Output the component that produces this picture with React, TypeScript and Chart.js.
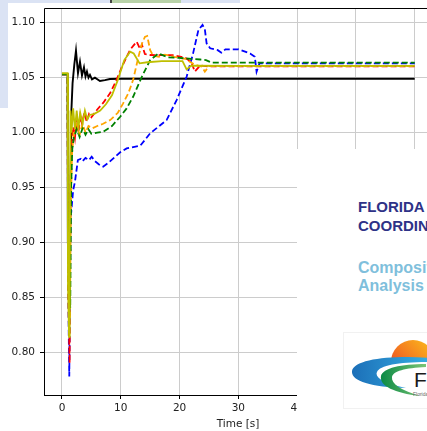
import React, { useEffect, useRef } from "react";
import { Chart, registerables } from "chart.js";

Chart.register(...registerables);

// ---- data (time in s, voltage in pu) ----
const xTicks = [0, 10, 20, 30, 40, 50, 60];
const yTicks = [0.8, 0.85, 0.9, 0.95, 1.0, 1.05, 1.1];

const blackT = [0, 0.95, 1.0, 1.3, 1.45, 1.6, 1.8, 2.1, 2.38, 2.72, 3.06, 3.4, 3.74, 4.0, 4.25, 4.51, 4.76, 5.1, 5.6, 6.46, 7.3, 8.16, 10, 60];
const blackV = [1.053, 1.053, 0.9, 0.86, 0.95, 1.02, 1.045, 1.062, 1.0745, 1.054, 1.0645, 1.052, 1.0595, 1.051, 1.0555, 1.05, 1.0525, 1.0485, 1.05, 1.047, 1.0478, 1.0488, 1.049, 1.049];

const blueT = [0, 0.95, 1.05, 1.24, 1.45, 1.9, 2.2, 2.7, 3.2, 3.5, 4.0, 4.6, 5.05, 5.6, 6.3, 7.0, 8.0, 9.9, 11, 13.3, 15, 17.8, 19.5, 21.2, 22.3, 23.2, 23.9, 24.3, 24.6, 25.2, 26.5, 27.1, 27.8, 30, 32, 32.8, 33.1, 33.6, 60];
const blueV = [1.053, 1.053, 0.86, 0.778, 0.92, 0.9476, 0.955, 0.975, 0.976, 0.974, 0.977, 0.975, 0.978, 0.974, 0.971, 0.969, 0.973, 0.982, 0.9856, 0.988, 0.9993, 1.0114, 1.0296, 1.0508, 1.0721, 1.0933, 1.098, 1.094, 1.0812, 1.0767, 1.075, 1.0727, 1.0758, 1.0758, 1.072, 1.069, 1.0554, 1.063, 1.063];

const redT = [0, 0.95, 1.05, 1.3, 1.42, 1.6, 1.9, 2.2, 2.5, 2.8, 3.1, 3.4, 3.8, 4.2, 4.6, 5.0, 6.0, 7.0, 8.2, 9.2, 10.2, 11.6, 12.7, 13.3, 13.6, 14.1, 15, 19, 21, 22, 22.6, 23.5, 25, 60];
const redV = [1.053, 1.053, 0.86, 0.79, 0.95, 0.985, 1.005, 0.995, 1.012, 1.0, 1.015, 1.008, 1.018, 1.01, 1.017, 1.014, 1.021, 1.027, 1.036, 1.047, 1.06, 1.0755, 1.0827, 1.076, 1.08, 1.0715, 1.0706, 1.0705, 1.068, 1.064, 1.0555, 1.061, 1.0602, 1.0602];

const orangeT = [0, 0.95, 1.05, 1.35, 1.5, 1.7, 2.0, 2.5, 3.0, 3.5, 4.0, 4.5, 5.2, 6.0, 7.0, 8.2, 9.5, 10.4, 11.3, 12.1, 13.0, 13.6, 14.1, 14.5, 15.0, 15.5, 16.5, 17.5, 19, 21, 22.5, 23.8, 24.3, 25, 60];
const orangeV = [1.053, 1.053, 0.88, 0.83, 0.93, 0.98, 1.0, 1.01, 0.998, 1.008, 1.0, 1.006, 1.004, 1.006, 1.008, 1.0114, 1.018, 1.0266, 1.036, 1.048, 1.069, 1.081, 1.087, 1.0879, 1.075, 1.07, 1.069, 1.071, 1.069, 1.067, 1.062, 1.06, 1.0554, 1.0605, 1.0605];

const greenT = [0, 0.95, 1.05, 1.4, 1.55, 1.75, 2.0, 2.5, 3.0, 3.5, 4.0, 4.5, 5.0, 6.0, 7.0, 8.5, 9.9, 11, 12.1, 13.6, 15, 16.4, 18, 20, 22, 23.5, 24.5, 25.5, 60];
const greenV = [1.053, 1.053, 0.9, 0.84, 0.95, 0.985, 0.995, 1.003, 0.996, 1.004, 0.998, 1.003, 0.999, 1.0, 1.0007, 1.006, 1.0144, 1.022, 1.0326, 1.051, 1.066, 1.072, 1.0685, 1.068, 1.067, 1.0665, 1.066, 1.0636, 1.0636];

const yellowT = [0, 0.95, 1.02, 1.2, 1.32, 1.45, 1.6, 1.9, 2.2, 2.5, 2.8, 3.1, 3.5, 3.9, 4.3, 4.7, 5.5, 6.5, 7.5, 8.5, 9.5, 10.6, 11.6, 12.2, 13.2, 14.5, 17, 20.5, 21.2, 22, 30, 60];
const yellowV = [1.054, 1.054, 0.86, 0.814, 0.9, 1.02, 1.0, 1.022, 1.003, 1.02, 1.004, 1.018, 1.008, 1.02, 1.012, 1.016, 1.017, 1.02, 1.026, 1.034, 1.048, 1.066, 1.0736, 1.072, 1.063, 1.064, 1.065, 1.065, 1.0575, 1.061, 1.0607, 1.0607];

const zip = (t: number[], v: number[]) => t.map((x, i) => ({ x, y: v[i] }));

export default function App() {
  const ref = useRef<HTMLCanvasElement>(null);

  useEffect(() => {
    const spines = {
      id: "spines",
      afterDatasetsDraw(chart: any) {
        const { ctx, chartArea: a } = chart;
        ctx.save();
        ctx.strokeStyle = "#000";
        ctx.lineWidth = 1;
        ctx.beginPath();
        ctx.moveTo(a.left + 0.5, a.bottom);
        ctx.lineTo(a.left + 0.5, a.top + 0.5);
        ctx.lineTo(a.right, a.top + 0.5);
        ctx.moveTo(a.left, a.bottom + 0.5);
        ctx.lineTo(a.right, a.bottom + 0.5);
        ctx.stroke();
        ctx.restore();
      },
    };
    const line = (data: any, color: string, dashed: boolean, order: number, w: number) => ({
      data,
      borderColor: color,
      backgroundColor: color,
      borderWidth: w,
      borderDash: dashed ? [6, 3] : [],
      pointRadius: 0,
      tension: 0,
      fill: false,
      order,
    });
    const font = { family: "'DejaVu Sans', sans-serif", size: 10.5 };
    const chart = new Chart(ref.current!, {
      type: "line",
      data: {
        datasets: [
          line(zip(blackT, blackV), "#000000", false, 5, 1.9),
          line(zip(blueT, blueV), "#0000ff", true, 4, 1.8),
          line(zip(redT, redV), "#ff0000", true, 3, 1.8),
          line(zip(orangeT, orangeV), "#ffa500", true, 2, 1.8),
          line(zip(greenT, greenV), "#008000", true, 1, 1.8),
          line(zip(yellowT, yellowV), "#bfbf00", false, 0, 1.8),
        ],
      },
      options: {
        animation: false,
        responsive: false,
        devicePixelRatio: 1,
        layout: { padding: { top: 8, right: 8, left: 0, bottom: 0 } },
        plugins: { legend: { display: false }, tooltip: { enabled: false } },
        scales: {
          x: {
            type: "linear",
            min: -3.06,
            max: 62.94,
            afterBuildTicks: (s: any) => {
              s.ticks = xTicks.map((value) => ({ value }));
            },
            afterFit: (s: any) => {
              s.height = 36;
              s.paddingLeft = 0;
              s.paddingRight = 0;
            },
            ticks: { font, color: "#222", padding: 3, autoSkip: false, maxRotation: 0 },
            grid: { color: "#cccccc", lineWidth: 1, tickLength: 4, tickColor: "#000", tickWidth: 1 },
            border: { display: false },
            title: { display: true, text: "Time [s]", font, color: "#222", padding: { top: 0, bottom: 0 } },
          },
          y: {
            type: "linear",
            min: 0.7611,
            max: 1.1134,
            afterBuildTicks: (s: any) => {
              s.ticks = yTicks.map((value) => ({ value }));
            },
            afterFit: (s: any) => {
              s.width = 44;
              s.paddingTop = 0;
              s.paddingBottom = 0;
            },
            ticks: { font, color: "#222", padding: 5, callback: (v: any) => Number(v).toFixed(2) },
            grid: { color: "#cccccc", lineWidth: 1, tickLength: 4, tickColor: "#000", tickWidth: 1 },
            border: { display: false },
          },
        },
      },
      plugins: [spines],
    } as any);
    return () => chart.destroy();
  }, []);

  const sans = "'Liberation Sans', Arial, sans-serif";
  return (
    <div style={{ position: "fixed", left: 0, top: 0, width: 427, height: 431, overflow: "hidden", background: "#fff" }}>
      <canvas ref={ref} width={440} height={431} style={{ position: "absolute", left: 0, top: 0, width: 440, height: 431 }} />
      {/* slide background behind the plot image */}
      <div style={{ position: "absolute", left: 0, top: 0, width: 240, height: 3, background: "#dbe3f4" }} />
      <div style={{ position: "absolute", left: 0, top: 0, width: 8, height: 108, background: "#dbe3f4" }} />
      <div style={{ position: "absolute", left: 110, top: 0, width: 71, height: 3, background: "#b8d2a8", borderLeft: "2px solid #444", boxSizing: "border-box" }} />
      {/* slide panel covering the lower right */}
      <div style={{ position: "absolute", left: 297, top: 149, width: 130, height: 282, background: "#ffffff" }} />
      <div style={{ position: "absolute", left: 358, top: 198, font: `bold 15px ${sans}`, lineHeight: "18px", color: "#2e3287", whiteSpace: "nowrap" }}>FLORIDA</div>
      <div style={{ position: "absolute", left: 358, top: 216.5, font: `bold 15px ${sans}`, lineHeight: "18px", color: "#2e3287", whiteSpace: "nowrap" }}>COORDINATING</div>
      <div style={{ position: "absolute", left: 358, top: 258.5, font: `bold 16px ${sans}`, lineHeight: "18px", color: "#7fbfdc", whiteSpace: "nowrap" }}>Composite</div>
      <div style={{ position: "absolute", left: 358, top: 276.5, font: `bold 16px ${sans}`, lineHeight: "18px", color: "#7fbfdc", whiteSpace: "nowrap" }}>Analysis</div>
      <svg width={427} height={431} style={{ position: "absolute", left: 0, top: 0, pointerEvents: "none" }}>
        <defs>
          <linearGradient id="sun" x1="0" y1="1" x2="1" y2="0">
            <stop offset="0" stopColor="#e2302a" />
            <stop offset="0.5" stopColor="#f47b20" />
            <stop offset="1" stopColor="#fcc21b" />
          </linearGradient>
          <linearGradient id="blu" x1="0" y1="0" x2="1" y2="0">
            <stop offset="0" stopColor="#1c6fb8" />
            <stop offset="1" stopColor="#36b0e4" />
          </linearGradient>
          <linearGradient id="grn" x1="0" y1="0" x2="1" y2="0">
            <stop offset="0" stopColor="#0b8a45" />
            <stop offset="1" stopColor="#7cc576" />
          </linearGradient>
          <clipPath id="sunclip">
            <rect x={380} y={330} width={60} height={29} />
          </clipPath>
        </defs>
        <rect x={343.5} y={332.5} width={100} height={76} fill="none" stroke="#f1f1f1" />
        <circle cx={413} cy={362} r={22} fill="url(#sun)" clipPath="url(#sunclip)" />
        <path d="M 432 358 C 392 355, 354 359, 352 371 C 351 381, 370 387, 406 388 C 386 384, 374 378, 377 372 C 380 365, 400 362, 432 362 Z" fill="url(#blu)" />
        <path d="M 426 364 C 401 364, 383 368, 381 376 C 379 386, 395 393, 420 396 C 401 390, 391 384, 392 377 C 393 371, 405 368, 426 367 Z" fill="url(#grn)" />
        <text x={414} y={387} fontFamily={sans} fontSize={21} fill="#1a1a1a">FRCC</text>
        <text x={413} y={396} fontFamily={sans} fontSize={5} fill="#666">Florida Reliability Coordinating Council</text>
      </svg>
    </div>
  );
}
